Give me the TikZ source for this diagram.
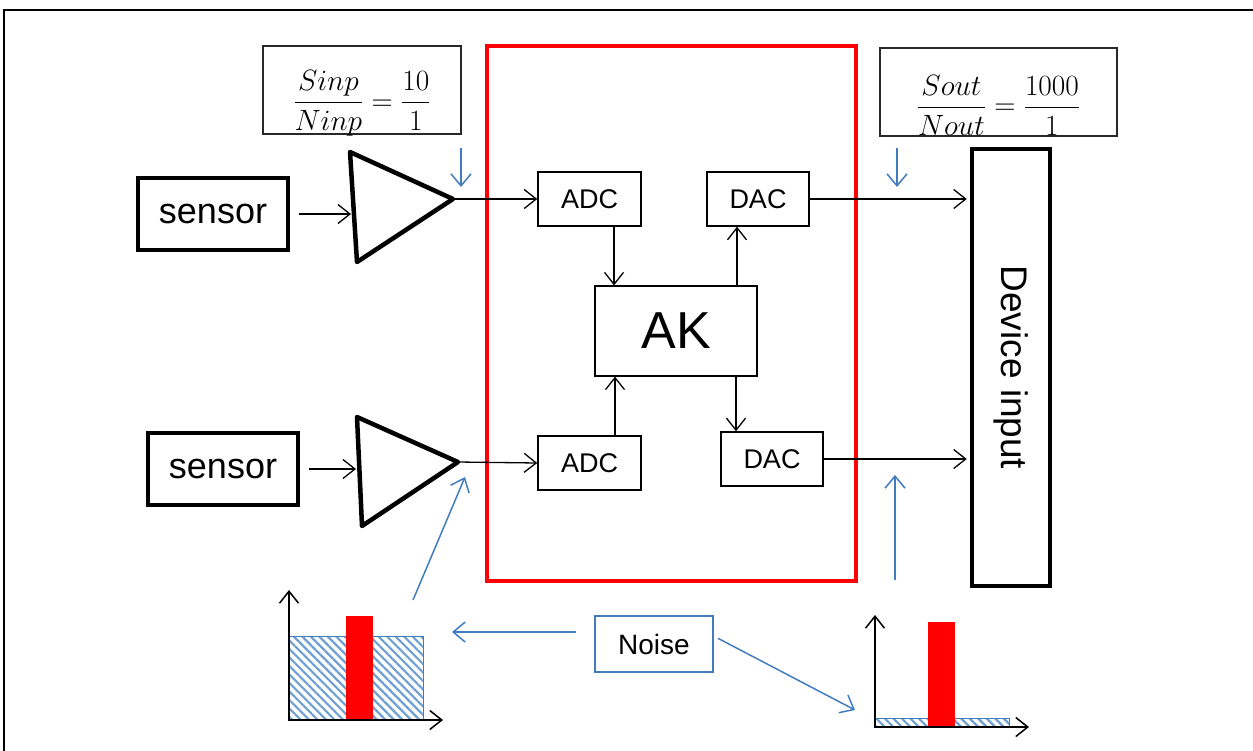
\documentclass[tikz,border=0pt]{standalone}
\usepackage{fontspec}
\usepackage{graphicx}
\newfontfamily\arial{Liberation Sans}
\usetikzlibrary{arrows.meta,patterns.meta,calc}
\definecolor{nblue}{RGB}{65,125,190}
\definecolor{hblue}{RGB}{110,160,210}
\definecolor{eqgray}{RGB}{40,40,40}
\tikzset{
  arr/.style={-{Straight Barb[length=12pt,width=19pt]},line width=1.3pt,black},
  barr/.style={-{Straight Barb[length=12pt,width=20pt]},line width=1.5pt,nblue},
  thickbox/.style={draw,line width=4.5pt,inner sep=0pt,font=\arial\fontsize{36}{40}\selectfont},
  thinbox/.style={draw,line width=1.5pt,inner sep=0pt,font=\arial\fontsize{27}{30}\selectfont},
  eqbox/.style={draw=eqgray,line width=1.2pt,inner sep=0pt},
  eqtext/.style={inner sep=0pt,font=\fontsize{24.88}{30}\selectfont},
  hatch/.style={draw=nblue,line width=1pt,pattern={Lines[angle=-45,distance=6pt,line width=2.2pt]},pattern color=hblue},
}
\begin{document}
\begin{tikzpicture}[x=1pt,y=-1pt]
\useasboundingbox (0,0) rectangle (1253,750);
% outer frame
\draw[line width=2.5pt] (4,760) -- (4,10) -- (1260,10);
% ratio boxes
\node[eqbox,minimum width=198pt,minimum height=88pt] (eq1) at (362,90) {};
\node[eqtext] (eq1t) at ([yshift=-13pt]eq1.center) {\scalebox{1.18}{$\displaystyle\frac{Sinp}{Ninp}=\frac{10}{1}$}};
\node[eqbox,minimum width=237pt,minimum height=88pt] (eq2) at (998.5,92) {};
\node[eqtext] (eq2t) at ([yshift=-13pt]eq2.center) {\scalebox{1.18}{$\displaystyle\frac{Sout}{Nout}=\frac{1000}{1}$}};
% red processing block
\draw[red,line width=4pt] (487,46) rectangle (856,581);
% sensors
\node[thickbox,minimum width=150pt,minimum height=72pt] (s1) at (213,214) {sensor};
\node[thickbox,minimum width=150pt,minimum height=72pt] (s2) at (223,469) {sensor};
% amplifiers
\coordinate (a1t) at (350,152);
\coordinate (a1b) at (357,262);
\coordinate (a1o) at (453,199);
\coordinate (a1in) at (351,214);
\coordinate (a2t) at (357,417);
\coordinate (a2b) at (362,526);
\coordinate (a2o) at (458,462);
\coordinate (a2in) at (356,469);
\draw[line width=4.5pt,line join=round] (a1t) -- (a1o) -- (a1b) -- cycle;
\draw[line width=4.5pt,line join=round] (a2t) -- (a2o) -- (a2b) -- cycle;
\draw[arr,shorten <=9pt] (s1.east) -- (a1in);
\draw[arr,shorten <=9pt] (s2.east) -- (a2in);
% converters and AK
\node[thinbox,minimum width=103pt,minimum height=54pt] (adc1) at (589.5,199) {ADC};
\node[thinbox,minimum width=102pt,minimum height=54pt] (dac1) at (758,199) {DAC};
\node[thinbox,minimum width=162pt,minimum height=90pt,font=\arial\fontsize{52}{56}\selectfont,line width=1.2pt] (ak) at (676,331) {AK};
\node[thinbox,minimum width=103pt,minimum height=54pt] (adc2) at (589.5,463) {ADC};
\node[thinbox,minimum width=102pt,minimum height=54pt] (dac2) at (772,459) {DAC};
% device input
\node[thickbox,minimum width=78pt,minimum height=437pt] (dev) at (1011,367.5) {};
\node[font=\arial\fontsize{37}{40}\selectfont,rotate=-90] (devt) at (dev.center) {Device input};
% signal connectors
\draw[arr] (a1o) -- (adc1.west);
\draw[arr] (a2o) -- (adc2.west);
\draw[arr] ([xshift=24.5pt]adc1.south) -- ([xshift=-62pt]ak.north);
\draw[arr] ([xshift=25.5pt]adc2.north) -- ([xshift=-61pt]ak.south);
\draw[arr] ([xshift=61pt]ak.north) -- ([xshift=-21pt]dac1.south);
\draw[arr] ([xshift=60pt]ak.south) -- ([xshift=-36pt]dac2.north);
\draw[arr,shorten >=3pt] (dac1.east) -- (dac1.east -| dev.west);
\draw[arr,shorten >=3pt] (dac2.east) -- (dac2.east -| dev.west);
% noise node and blue arrows
\node[draw=nblue,line width=1.2pt,minimum width=118pt,minimum height=56pt,inner sep=0pt,font=\arial\fontsize{28}{30}\selectfont] (noise) at (654,644) {Noise};
\coordinate (d1s) at (461,148);
\coordinate (d1e) at (461,187);
\coordinate (d2s) at (897,148);
\coordinate (d2e) at (897,187);
\coordinate (u1s) at (895,580);
\coordinate (u1e) at (895,475);
\coordinate (g1s) at (413,600);
\coordinate (g1e) at (465,477);
\coordinate (nl) at (452,632);
\coordinate (nr) at (855,710);
\draw[barr] (d1s) -- (d1e);
\draw[barr] (d2s) -- (d2e);
\draw[barr] (u1s) -- (u1e);
\draw[barr] (g1s) -- (g1e);
\draw[barr,shorten <=18pt] ([yshift=12pt]noise.west) -- (nl);
\draw[barr,shorten <=5pt] ([yshift=8pt]noise.east) -- (nr);
% left spectrum
\draw[hatch] (289,636) rectangle (423,720);
\fill[red] (346,616) rectangle (373,720);
\draw[arr,line width=1.5pt] (289,721) -- (289,590);
\draw[arr,line width=1.5pt] (289,720) -- (443,720);
% right spectrum
\draw[hatch] (875,718) rectangle (1009,727);
\fill[red] (928,622) rectangle (955,726);
\draw[arr,line width=1.5pt] (875,728) -- (875,615);
\draw[arr,line width=1.5pt] (875,727) -- (1029,727);
\end{tikzpicture}
\end{document}
